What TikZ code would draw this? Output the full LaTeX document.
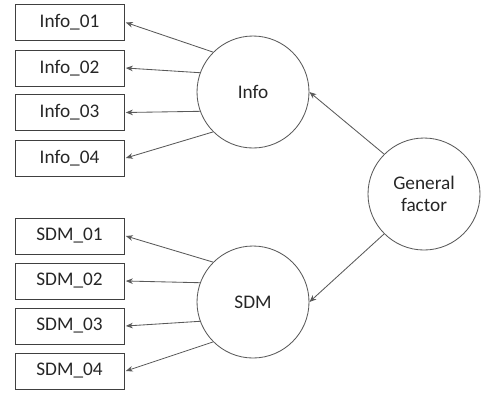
\documentclass[tikz,border=0pt]{standalone}
\usepackage{fontspec}
\setmainfont{Carlito}
\usetikzlibrary{calc, positioning}
\usetikzlibrary{arrows.meta}
\def\lw{0.6pt}
\tikzset{
    item/.style = {
        draw=black!75, line width=\lw, minimum width=2.725cm, minimum height=0.9cm, inner sep=0pt
    },
    factor/.style = {
        draw=black!65, line width=\lw, circle, minimum size=2.8cm, align=center, inner sep=0pt
    }
}

\begin{document}
\begin{tikzpicture}[every node/.style={font=\fontsize{13.7}{16}\selectfont, text=black!85}]
        \useasboundingbox (0, 0) rectangle (12.1, -9.8);
        \node [item] (info1) at (1.7375, -0.5625) {Info\_01};
        \node [item] (info2) at (1.7375, -1.7) {Info\_02};
        \node [item] (info3) at (1.7375, -2.8125) {Info\_03};
        \node [item] (info4) at (1.7375, -3.95) {Info\_04};
        \node [item] (sdm1) at (1.7375, -5.9) {SDM\_01};
        \node [item] (sdm2) at (1.7375, -7.025) {SDM\_02};
        \node [item] (sdm3) at (1.7375, -8.15) {SDM\_03};
        \node [item] (sdm4) at (1.7375, -9.275) {SDM\_04};
        \node [factor] (info) at (6.325, -2.3) {Info};
        \node [factor] (sdm) at (6.325, -7.55) {SDM};
        \node [factor] (general) at (10.6, -4.85) {General\\factor};
        \begin{scope}[draw=black!65, line width = \lw, >={Stealth[width=4pt,length=5pt]}, ->]
            \draw (info.135) -- ([xshift=1pt] info1.east);
            \draw (info.160) -- ([xshift=1pt] info2.east);
            \draw (info.200) -- ([xshift=1pt] info3.east);
            \draw (info.225) -- ([xshift=1pt] info4.east);
            \draw (sdm.135) -- ([xshift=1pt] sdm1.east);
            \draw (sdm.160) -- ([xshift=1pt] sdm2.east);
            \draw (sdm.200) -- ([xshift=1pt] sdm3.east);
            \draw (sdm.225) -- ([xshift=1pt] sdm4.east);
            \draw (general.135) -- (info.east);
            \draw (general.225) -- (sdm.east);
        \end{scope}
    \end{tikzpicture}
\end{document}
